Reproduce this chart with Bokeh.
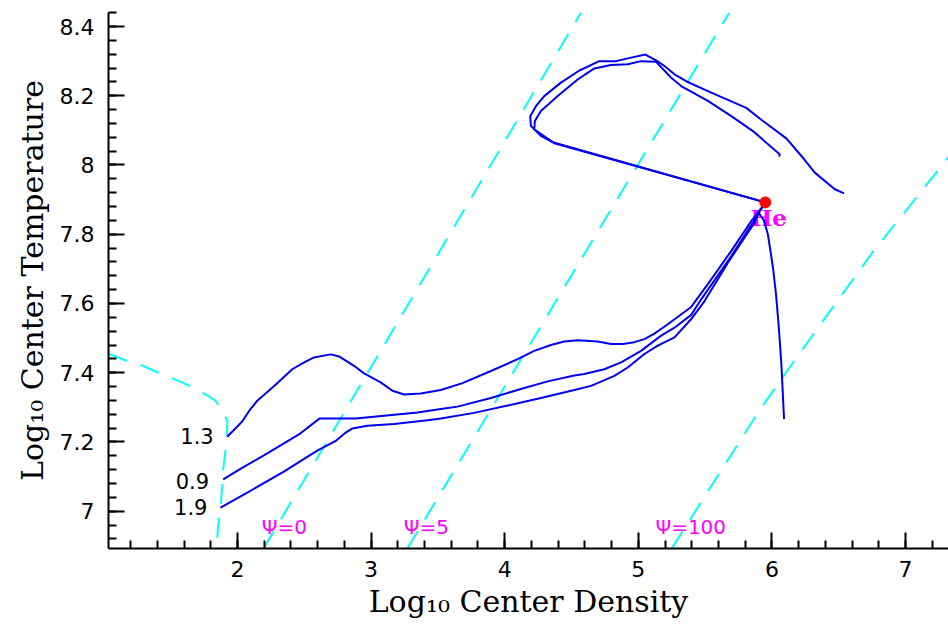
from bokeh.plotting import figure
from bokeh.models import Range1d, SingleIntervalTicker, CustomJSTickFormatter, ColumnDataSource
from bokeh.core.properties import value
from bokeh.embed import file_html
from bokeh.resources import INLINE

# ---------------- data (log10 central density, log10 central temperature) -------------
track_labels = ["1.3", "0.9", "1.9"]

track13_rho = [1.923, 2.035, 2.097, 2.148, 2.285, 2.41, 2.485, 2.572, 2.697, 2.76, 2.872, 2.947,
               3.072, 3.16, 3.247, 3.372, 3.522, 3.684, 3.897, 4.097, 4.221, 4.346, 4.446, 4.546,
               4.696, 4.796, 4.884, 4.959, 5.046, 5.121, 5.221, 5.396, 5.521, 5.696, 5.846, 5.933,
               5.951, 4.371, 4.271, 4.196, 4.191, 4.234, 4.296, 4.421, 4.559, 4.708, 4.834, 4.921,
               5.053, 5.133, 5.196, 5.271, 5.358, 5.546, 5.808, 5.933, 6.108, 6.221, 6.321, 6.471,
               6.54]
track13_T = [7.215, 7.259, 7.295, 7.319, 7.365, 7.410, 7.427, 7.444, 7.453, 7.447, 7.420, 7.398,
             7.372, 7.348, 7.337, 7.340, 7.350, 7.370, 7.405, 7.439, 7.463, 7.480, 7.490, 7.494,
             7.490, 7.483, 7.483, 7.487, 7.497, 7.513, 7.540, 7.590, 7.656, 7.752, 7.838, 7.882,
             7.892, 8.063, 8.084, 8.113, 8.141, 8.170, 8.199, 8.238, 8.273, 8.300, 8.300, 8.308,
             8.319, 8.302, 8.286, 8.262, 8.242, 8.209, 8.165, 8.127, 8.077, 8.026, 7.978, 7.930,
             7.918]

track09_rho = [1.893, 2.022, 2.223, 2.472, 2.615, 2.885, 3.097, 3.347, 3.522, 3.647, 3.897, 4.121,
               4.322, 4.521, 4.596, 4.746, 4.871, 5.021, 5.171, 5.271, 5.396, 5.471, 5.696, 5.858,
               5.951, 4.36, 4.27, 4.221, 4.226, 4.271, 4.397, 4.546, 4.671, 4.796, 4.921, 5.021,
               5.133, 5.246, 5.321, 5.521, 5.696, 5.858, 6.058, 6.055]
track09_T = [7.092, 7.122, 7.167, 7.225, 7.268, 7.268, 7.276, 7.285, 7.295, 7.302, 7.327, 7.353,
             7.375, 7.392, 7.396, 7.410, 7.430, 7.463, 7.507, 7.530, 7.567, 7.612, 7.737, 7.834,
             7.892, 8.066, 8.090, 8.103, 8.127, 8.156, 8.199, 8.247, 8.279, 8.289, 8.291, 8.300,
             8.298, 8.252, 8.228, 8.185, 8.141, 8.098, 8.031, 8.024]

track19_rho = [1.873, 2.097, 2.347, 2.597, 2.735, 2.81, 2.86, 2.972, 3.172, 3.422, 3.522, 3.771,
               4.022, 4.271, 4.521, 4.646, 4.821, 4.921, 5.046, 5.146, 5.271, 5.396, 5.496, 5.671,
               5.871, 5.90, 5.94, 5.97, 6.008, 6.03, 6.05, 6.071, 6.091]
track19_T = [7.010, 7.059, 7.114, 7.175, 7.203, 7.227, 7.239, 7.247, 7.252, 7.263, 7.268, 7.284,
             7.305, 7.327, 7.350, 7.362, 7.391, 7.415, 7.454, 7.478, 7.502, 7.555, 7.607, 7.718,
             7.834, 7.862, 7.840, 7.800, 7.704, 7.630, 7.540, 7.425, 7.266]

# degeneracy lines (psi = 0, 5, 100)
psi_labels = ["\u03a8=0", "\u03a8=5", "\u03a8=100"]
psi0_rho = [2.195, 4.571]
psi0_T = [6.892, 8.44]
psi5_rho = [3.271, 5.681]
psi5_T = [6.892, 8.44]
psi100_rho = [5.251, 5.581, 5.905, 6.216, 6.758, 7.330]
psi100_T = [6.892, 7.094, 7.290, 7.461, 7.750, 8.026]

# left boundary curve
bound_rho = [1.035, 1.16, 1.273, 1.418, 1.523, 1.659, 1.768, 1.835, 1.873, 1.925, 1.918, 1.893,
             1.878, 1.852, 1.843]
bound_T = [7.455, 7.436, 7.423, 7.398, 7.382, 7.359, 7.336, 7.319, 7.298, 7.26, 7.203, 7.12,
           7.03, 6.944, 6.891]

# helium ignition point
he_rho = [5.951]
he_T = [7.892]
he_label = ["He"]

# ---------------- figure ----------------
p = figure(width=948, height=626,
           x_range=Range1d(1.0344, 7.322), y_range=Range1d(6.8922, 8.4405),
           output_backend="svg", toolbar_location=None,
           min_border_left=108, min_border_right=0, min_border_top=12, min_border_bottom=78)
p.outline_line_color = None
p.xgrid.visible = False
p.ygrid.visible = False
p.background_fill_color = "white"
p.border_fill_color = "white"

p.xaxis.ticker = SingleIntervalTicker(interval=1, num_minor_ticks=5)
p.yaxis.ticker = SingleIntervalTicker(interval=0.2, num_minor_ticks=5)
p.yaxis.formatter = CustomJSTickFormatter(code="return String(Math.round(tick*100)/100);")
p.xaxis.axis_label = "Log\u2081\u2080 Center Density"
p.yaxis.axis_label = "Log\u2081\u2080 Center Temperature"

for ax in (p.xaxis[0], p.yaxis[0]):
    ax.axis_line_width = 2
    ax.axis_line_color = "black"
    ax.major_tick_line_width = 2
    ax.minor_tick_line_width = 2
    ax.major_tick_line_color = "black"
    ax.minor_tick_line_color = "black"
    ax.major_tick_in = 16
    ax.major_tick_out = 0
    ax.minor_tick_in = 8
    ax.minor_tick_out = 0
    ax.major_label_text_font = "DejaVu Sans"
    ax.major_label_text_font_size = "22px"
    ax.major_label_text_color = "black"
    ax.axis_label_text_font = "DejaVu Serif"
    ax.axis_label_text_font_size = "30px"
    ax.axis_label_text_font_style = "normal"
    ax.axis_label_text_color = "black"

p.xaxis.major_label_standoff = 12
p.yaxis.major_label_standoff = 14
p.xaxis.axis_label_standoff = 4
p.yaxis.axis_label_standoff = 7

# He label sits beneath the tracks
p.text(x=[5.84], y=[7.847], text=he_label, text_color="#ff00ff",
       text_font=value("DejaVu Serif"), text_font_size="23px", text_font_style="bold",
       text_baseline="middle", text_align="left")

cyan = "#00ffff"
dash = "20 14"
p.line(bound_rho, bound_T, line_color=cyan, line_width=2, line_dash=dash)
p.line(psi0_rho, psi0_T, line_color=cyan, line_width=2, line_dash=dash)
p.line(psi5_rho, psi5_T, line_color=cyan, line_width=2, line_dash=dash)
p.line(psi100_rho, psi100_T, line_color=cyan, line_width=2, line_dash=dash)

blue = "#0000ee"
p.line(track13_rho, track13_T, line_color=blue, line_width=2)
p.line(track09_rho, track09_T, line_color=blue, line_width=2)
p.line(track19_rho, track19_T, line_color=blue, line_width=2)

p.scatter(he_rho, he_T, size=11, color="red")

# track labels (mass) right-aligned left of each track start
lab_src = ColumnDataSource(dict(x=[1.822, 1.787, 1.775], y=[7.218, 7.088, 7.012], t=track_labels))
p.text(x="x", y="y", text="t", source=lab_src, text_color="black",
       text_font=value("DejaVu Sans"), text_font_size="21px",
       text_align="right", text_baseline="middle")

psi_src = ColumnDataSource(dict(x=[2.181, 3.244, 5.128], y=[6.955, 6.955, 6.955], t=psi_labels))
p.text(x="x", y="y", text="t", source=psi_src, text_color="#ff00ff",
       text_font=value("DejaVu Sans"), text_font_size="20px",
       text_align="left", text_baseline="middle")

open("out.html", "w").write(file_html(p, INLINE))
